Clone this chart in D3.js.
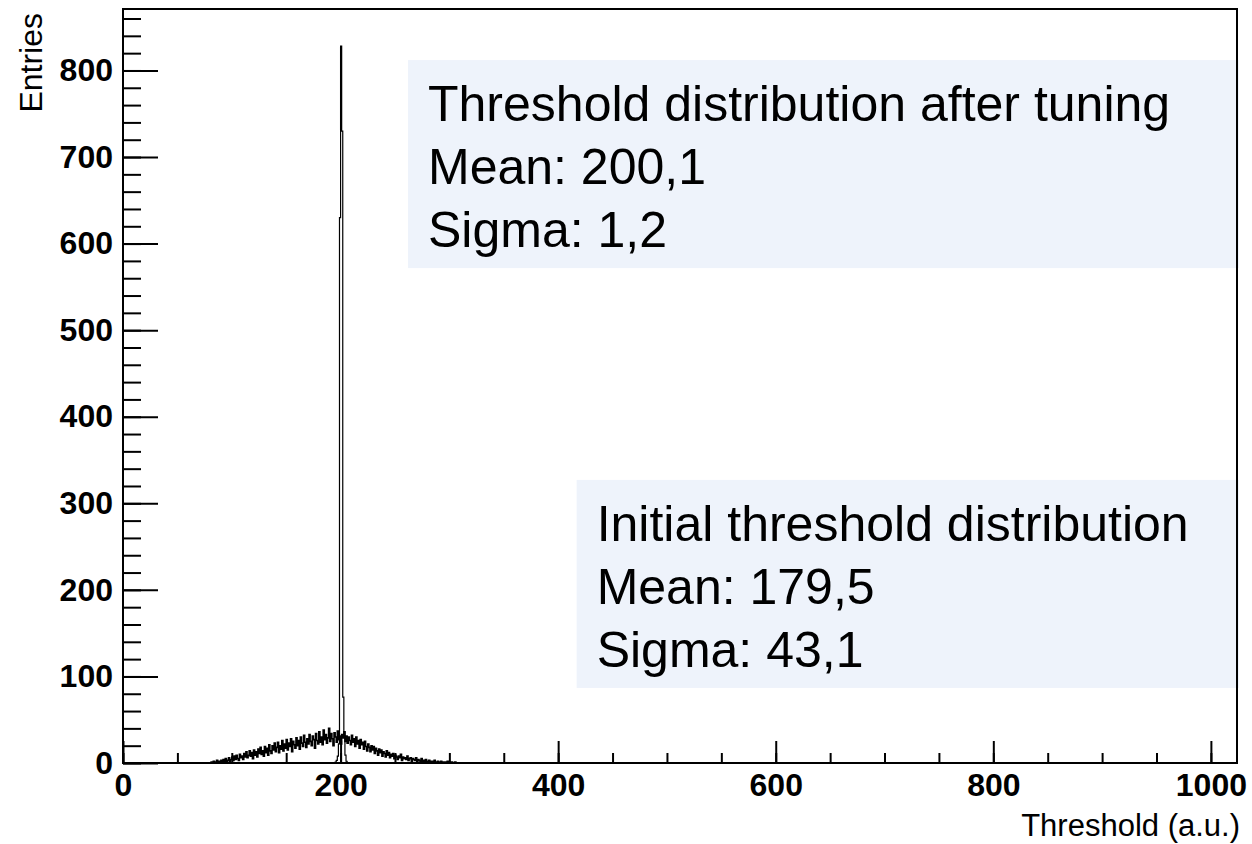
<!DOCTYPE html>
<html>
<head>
<meta charset="utf-8">
<script src="https://cdn.jsdelivr.net/npm/d3@7"></script>
<style>
    html, body { margin: 0; padding: 0; background: #fff; }
    svg { display: block; }
    .axis text { font-family: "Liberation Sans", Arial, sans-serif; font-weight: bold; font-size: 32px; fill: #000; }
    .axis line { stroke: #000; stroke-width: 2; }
    .axis path { display: none; }
    .title { font-family: "Liberation Sans", Arial, sans-serif; font-size: 31px; fill: #000; }
    .note { font-family: "Liberation Sans", Arial, sans-serif; font-size: 50px; fill: #000; }
</style>
</head>
<body>
<svg id="chart" width="1252" height="844"></svg>
<script>
(function () {

    // initial threshold distribution, 1 unit bins starting at 80
    var initialStart = 80;
    var initialCounts = [
        0, 1, 0, 2, 1, 0, 3, 1, 2, 0,
        3, 1, 4, 2, 5, 1, 3, 6, 2, 4,
        7, 3, 8, 4, 9, 5, 3, 10, 6, 8,
        4, 11, 7, 13, 6, 9, 14, 8, 12, 5,
        15, 9, 13, 7, 16, 11, 18, 10, 14, 8,
        19, 12, 17, 9, 21, 14, 11, 20, 15, 23,
        13, 18, 24, 12, 20, 16, 26, 14, 22, 17,
        27, 15, 23, 19, 28, 13, 25, 21, 17, 29,
        20, 26, 16, 30, 23, 19, 32, 24, 18, 28,
        22, 33, 25, 20, 31, 27, 17, 34, 26, 22,
        36, 24, 30, 21, 38, 27, 33, 23, 29, 40,
        25, 34, 28, 20, 35, 30, 24, 37, 27, 31,
        22, 33, 29, 36, 25, 31, 23, 30, 26, 21,
        32, 24, 28, 19, 30, 22, 26, 17, 27, 21,
        24, 16, 25, 19, 14, 22, 18, 13, 20, 15,
        19, 11, 17, 14, 9, 16, 12, 15, 8, 13,
        11, 7, 14, 9, 12, 6, 10, 8, 11, 5,
        9, 7, 4, 8, 6, 10, 3, 7, 5, 6,
        4, 8, 3, 5, 6, 2, 5, 4, 3, 6,
        2, 4, 3, 1, 5, 2, 3, 1, 4, 2,
        1, 3, 2, 0, 2, 1, 3, 1, 0, 2,
        1, 0, 2, 1, 0, 1, 1, 0, 2, 0,
        1, 0, 1, 0, 0, 1
    ];

    // threshold distribution after tuning, 1 unit bins starting at 195
    var tunedStart = 195;
    var tunedCounts = [1, 3, 8, 22, 630, 828, 730, 76, 36, 9, 2];

    var yMajorTicks = [0, 100, 200, 300, 400, 500, 600, 700, 800];
    var xMajorTicks = [0, 200, 400, 600, 800, 1000];

    // box corners in data units (top left)
    var notes = [
        { lines: ['Threshold distribution after tuning', 'Mean: 200,1', 'Sigma: 1,2'], x0: 262, y0: 812 },
        { lines: ['Initial threshold distribution', 'Mean: 179,5', 'Sigma: 43,1'], x0: 417, y0: 327 }
    ];

    var frame = { left: 123, top: 9, right: 1237, bottom: 763 };

    var svg = d3.select('#chart');

    var x = d3.scaleLinear().domain([0, 1024]).range([frame.left, frame.right]);
    var y = d3.scaleLinear().domain([0, 871]).range([frame.bottom, frame.top]);

    notes.forEach(function (note) {
        var bx = x(note.x0), by = y(note.y0);
        svg.append('rect')
            .attr('x', bx)
            .attr('y', by)
            .attr('width', frame.right + 2 - bx)
            .attr('height', 208)
            .attr('fill', '#eef3fb');

        note.lines.forEach(function (line, i) {
            svg.append('text')
                .classed('note', true)
                .attr('x', bx + 20)
                .attr('y', by + 61 + i * 63)
                .text(line);
        });
    });

    function stepPoints(start, counts) {
        var pts = [{ x: start, v: 0 }];
        counts.forEach(function (c, i) {
            pts.push({ x: start + i, v: c });
        });
        pts.push({ x: start + counts.length, v: 0 });
        return pts;
    }

    var line = d3.line()
        .x(function (d) { return x(d.x); })
        .y(function (d) { return y(d.v); })
        .curve(d3.curveStepAfter);

    svg.append('path')
        .datum(stepPoints(initialStart, initialCounts))
        .attr('d', line)
        .attr('fill', 'none')
        .attr('stroke', '#000')
        .attr('stroke-width', 1.6);

    svg.append('path')
        .datum(stepPoints(tunedStart, tunedCounts))
        .attr('d', line)
        .attr('fill', 'none')
        .attr('stroke', '#000')
        .attr('stroke-width', 1.2);

    // axes: ticks point into the frame
    svg.append('g')
        .classed('axis', true)
        .attr('transform', 'translate(' + frame.left + ',0)')
        .call(d3.axisLeft(y).tickValues(d3.range(0, 871, 20)).tickSize(-18).tickFormat(''));

    svg.append('g')
        .classed('axis', true)
        .attr('transform', 'translate(' + frame.left + ',0)')
        .call(d3.axisLeft(y).tickValues(yMajorTicks).tickSize(-35).tickPadding(10).tickFormat(d3.format('d')));

    svg.append('g')
        .classed('axis', true)
        .attr('transform', 'translate(0,' + frame.bottom + ')')
        .call(d3.axisBottom(x).tickValues(d3.range(0, 1024, 50)).tickSize(-10).tickFormat(''));

    svg.append('g')
        .classed('axis', true)
        .attr('transform', 'translate(0,' + frame.bottom + ')')
        .call(d3.axisBottom(x).tickValues(xMajorTicks).tickSize(-22).tickPadding(10).tickFormat(d3.format('d')));

    svg.append('rect')
        .attr('x', frame.left)
        .attr('y', frame.top)
        .attr('width', frame.right - frame.left)
        .attr('height', frame.bottom - frame.top)
        .attr('fill', 'none')
        .attr('stroke', '#000')
        .attr('stroke-width', 2);

    svg.append('text')
        .classed('title', true)
        .attr('transform', 'translate(42,13) rotate(-90)')
        .attr('text-anchor', 'end')
        .style('font-size', '32px')
        .text('Entries');

    svg.append('text')
        .classed('title', true)
        .attr('x', 1240)
        .attr('y', 836)
        .attr('text-anchor', 'end')
        .text('Threshold (a.u.)');

})();
</script>
</body>
</html>
